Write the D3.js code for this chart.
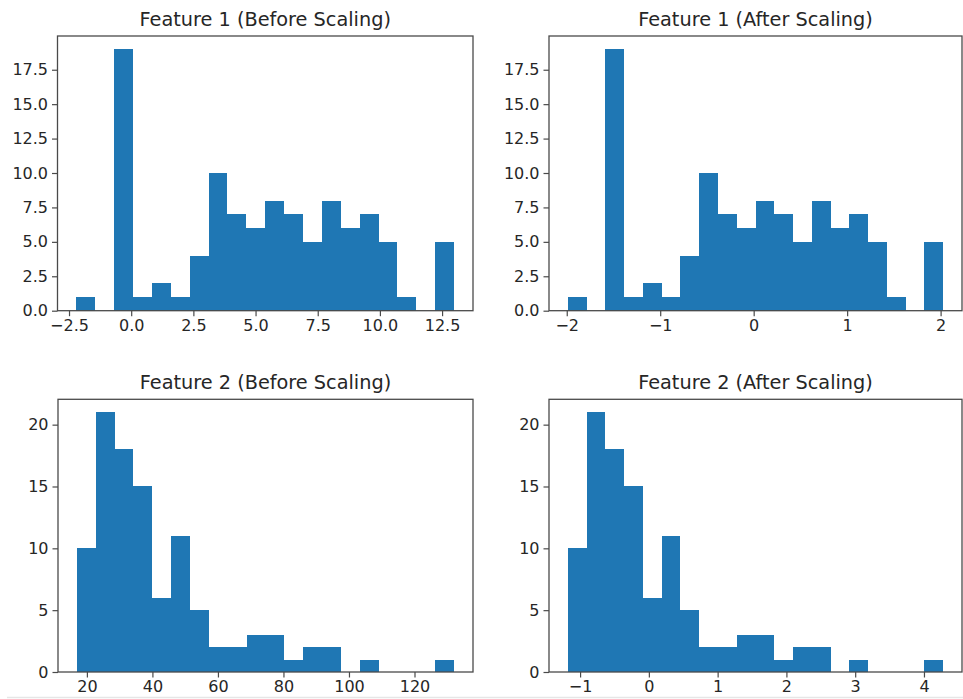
<!DOCTYPE html>
<html>
<head>
<meta charset="utf-8">
<script src="https://cdn.jsdelivr.net/npm/d3@7"></script>
<style>
  body { margin: 0; background: #fff; }
  text { font-family: "DejaVu Sans", sans-serif; fill: #262626; }
</style>
</head>
<body>
<div id="chart"></div>
<script>
// histogram counts (20 bins), same shape before and after scaling
var feature1Counts = [1, 0, 19, 1, 2, 1, 4, 10, 7, 6, 8, 7, 5, 8, 6, 7, 5, 1, 0, 5];
var feature2Counts = [10, 21, 18, 15, 6, 11, 5, 2, 2, 3, 3, 1, 2, 2, 0, 1, 0, 0, 0, 1];

// data min / max of each histogram (outer bin edges)
var feature1BeforeRange = [-2.204, 12.984];
var feature1AfterRange = [-1.989, 2.028];
var feature2BeforeRange = [16.94, 132.1];
var feature2AfterRange = [-1.179, 4.28];

var titles = ["Feature 1 (Before Scaling)", "Feature 1 (After Scaling)",
              "Feature 2 (Before Scaling)", "Feature 2 (After Scaling)"];

// tick values
var feature1BeforeTicks = [-2.5, 0, 2.5, 5, 7.5, 10, 12.5];
var feature1AfterTicks = [-2, -1, 0, 1, 2];
var feature2BeforeTicks = [20, 40, 60, 80, 100, 120];
var feature2AfterTicks = [-1, 0, 1, 2, 3, 4];
var feature1CountTicks = [0, 2.5, 5, 7.5, 10, 12.5, 15, 17.5];
var feature2CountTicks = [0, 5, 10, 15, 20];

var width = 963, height = 699;

var svg = d3.select("#chart")
    .append("svg")
        .attr("width", width)
        .attr("height", height);

svg.append("rect").attr("width", width).attr("height", height).attr("fill", "#fff");

var panels = [
    {title: titles[0], counts: feature1Counts, range: feature1BeforeRange, xt: feature1BeforeTicks, yt: feature1CountTicks, xf: ".1f", yf: ".1f",
     left: 57.5, right: 473, top: 36, bottom: 310.7},
    {title: titles[1], counts: feature1Counts, range: feature1AfterRange, xt: feature1AfterTicks, yt: feature1CountTicks, xf: "d", yf: ".1f",
     left: 549, right: 962, top: 36, bottom: 310.7},
    {title: titles[2], counts: feature2Counts, range: feature2BeforeRange, xt: feature2BeforeTicks, yt: feature2CountTicks, xf: "d", yf: "d",
     left: 58, right: 473, top: 399.3, bottom: 672},
    {title: titles[3], counts: feature2Counts, range: feature2AfterRange, xt: feature2AfterTicks, yt: feature2CountTicks, xf: "d", yf: "d",
     left: 549, right: 962, top: 399.3, bottom: 672}
];

panels.forEach(function(p) {
    var lo = p.range[0], hi = p.range[1], span = hi - lo;
    var nb = p.counts.length;
    var bins = p.counts.map(function(c, i) {
        return {x0: lo + i * span / nb, x1: lo + (i + 1) * span / nb, count: c};
    });

    var x = d3.scaleLinear()
        .domain([lo - 0.05 * span, hi + 0.05 * span])
        .range([p.left, p.right]);
    var y = d3.scaleLinear()
        .domain([0, d3.max(p.counts) * 1.05])
        .range([p.bottom, p.top]);

    var g = svg.append("g");

    g.selectAll("rect.bar")
        .data(bins.filter(function(d) { return d.count > 0; }))
        .enter()
        .append("rect")
            .attr("class", "bar")
            .attr("x", function(d) { return x(d.x0); })
            .attr("y", function(d) { return y(d.count); })
            .attr("width", function(d) { return x(d.x1) - x(d.x0); })
            .attr("height", function(d) { return y(0) - y(d.count); })
            .attr("fill", "#1f77b4")
            .attr("shape-rendering", "crispEdges");

    // frame
    g.append("rect")
        .attr("x", p.left)
        .attr("y", p.top)
        .attr("width", p.right - p.left)
        .attr("height", p.bottom - p.top)
        .attr("fill", "none")
        .attr("stroke", "#4a4a4a")
        .attr("stroke-width", 1.3);

    var xAxis = g.append("g")
        .attr("transform", "translate(0," + p.bottom + ")")
        .call(d3.axisBottom(x).tickValues(p.xt).tickFormat(d3.format(p.xf)).tickSize(5.5).tickPadding(3.5).tickSizeOuter(0));
    var yAxis = g.append("g")
        .attr("transform", "translate(" + p.left + ",0)")
        .call(d3.axisLeft(y).tickValues(p.yt).tickFormat(d3.format(p.yf)).tickSize(5.5).tickPadding(4).tickSizeOuter(0));

    [xAxis, yAxis].forEach(function(a) {
        a.select(".domain").remove();
        a.selectAll("line").attr("stroke", "#4a4a4a").attr("stroke-width", 1.2);
        a.selectAll("text").attr("font-size", "16px").attr("font-family", "DejaVu Sans").attr("fill", "#262626");
    });

    g.append("text")
        .attr("x", (p.left + p.right) / 2)
        .attr("y", p.top - 10.5)
        .attr("text-anchor", "middle")
        .attr("font-size", "19.3px")
        .text(p.title);
});

// faint edge line at the bottom of the screenshot
svg.append("line")
    .attr("x1", 7).attr("x2", width)
    .attr("y1", 697.5).attr("y2", 697.5)
    .attr("stroke", "#e6e6e6")
    .attr("stroke-width", 1.5);
</script>
</body>
</html>
